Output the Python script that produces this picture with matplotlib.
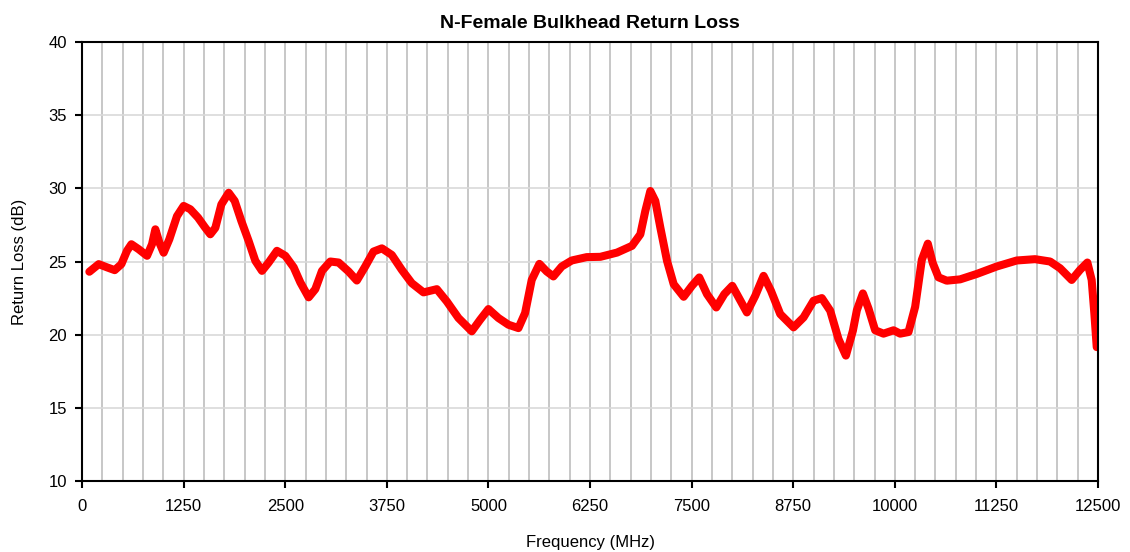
import matplotlib.pyplot as plt
import numpy as np

plt.rcParams.update({
    "font.family": ["Liberation Sans", "DejaVu Sans"],
    "font.size": 12,
    "axes.edgecolor": "black",
    "axes.linewidth": 1.5,
})

# data (frequency in MHz, return loss in dB)
freq_mhz = [90, 205, 308, 402, 484, 553, 607, 697, 800, 861, 902, 951, 1004, 1074, 1168,
            1250, 1332, 1427, 1509, 1578, 1640, 1714, 1804, 1878, 1960, 2050, 2132, 2214,
            2296, 2398, 2501, 2604, 2686, 2788, 2870, 2952, 3054, 3157, 3279, 3381, 3484,
            3586, 3689, 3811, 3934, 4057, 4201, 4365, 4488, 4631, 4795, 4898, 5000, 5123,
            5246, 5369, 5451, 5533, 5627, 5717, 5799, 5902, 6025, 6209, 6377, 6582, 6766,
            6869, 6930, 6992, 7053, 7115, 7197, 7279, 7402, 7504, 7594, 7689, 7803, 7902,
            8000, 8090, 8180, 8283, 8385, 8476, 8590, 8754, 8877, 9000, 9102, 9205, 9307,
            9398, 9484, 9533, 9607, 9676, 9758, 9861, 9984, 10066, 10168, 10250, 10332,
            10406, 10467, 10537, 10639, 10803, 11008, 11254, 11500, 11725, 11910, 12033,
            12176, 12279, 12369, 12422, 12455, 12484]
return_loss = [24.3, 24.82, 24.6, 24.41, 24.82, 25.73, 26.18, 25.84, 25.39, 26.18, 27.2,
               26.3, 25.6, 26.52, 28.1, 28.8, 28.57, 28.0, 27.36, 26.86, 27.3, 28.9, 29.7,
               29.14, 27.77, 26.4, 25.05, 24.36, 24.93, 25.73, 25.39, 24.6, 23.57, 22.55,
               23.11, 24.36, 25.0, 24.93, 24.32, 23.7, 24.66, 25.68, 25.9, 25.45, 24.43,
               23.52, 22.89, 23.11, 22.27, 21.14, 20.23, 21.02, 21.75, 21.14, 20.68, 20.45,
               21.48, 23.75, 24.84, 24.32, 23.98, 24.66, 25.07, 25.3, 25.32, 25.61, 26.07,
               26.86, 28.45, 29.82, 29.14, 27.32, 25.05, 23.45, 22.59, 23.34, 23.91, 22.77,
               21.86, 22.77, 23.34, 22.43, 21.52, 22.66, 24.02, 23.0, 21.41, 20.5, 21.18,
               22.32, 22.5, 21.64, 19.7, 18.57, 20.27, 21.67, 22.82, 21.79, 20.3, 20.07,
               20.3, 20.07, 20.18, 21.9, 25.11, 26.22, 24.89, 23.92, 23.69, 23.78, 24.15,
               24.66, 25.07, 25.16, 25.0, 24.54, 23.74, 24.43, 24.93, 23.74, 21.44, 19.15]

x_ticks = np.arange(0, 12501, 1250)
x_minor = np.arange(0, 12501, 250)
y_ticks = np.arange(10, 41, 5)

fig = plt.figure(figsize=(11.3, 5.52), dpi=100)
ax = fig.add_axes([0.0726, 0.1286, 0.8991, 0.7953])

ax.set_xlim(0, 12500)
ax.set_ylim(10, 40)
ax.set_xticks(x_ticks)
ax.set_xticks(x_minor, minor=True)
ax.set_yticks(y_ticks)

# grid: vertical every 250 MHz, horizontal every 5 dB
ax.grid(True, which="both", axis="x", color="#bdbdbd", linewidth=1.2)
ax.grid(True, which="major", axis="y", color="#d9d9d9", linewidth=1.2)
ax.set_axisbelow(True)

ax.tick_params(axis="x", which="major", direction="out", length=5, width=1.5, pad=8)
ax.tick_params(axis="y", which="major", direction="out", length=5, width=1.5, pad=6)
ax.tick_params(axis="x", which="minor", length=0)

ax.plot(freq_mhz, return_loss, color="#ff0000", linewidth=5.8,
        solid_joinstyle="round", solid_capstyle="round")

ax.set_title("N-Female Bulkhead Return Loss", fontsize=14, fontweight="bold", pad=10)
ax.set_xlabel("Frequency (MHz)", labelpad=15)
ax.set_ylabel("Return Loss (dB)", labelpad=15)

fig.savefig("out.png", dpi=100)
